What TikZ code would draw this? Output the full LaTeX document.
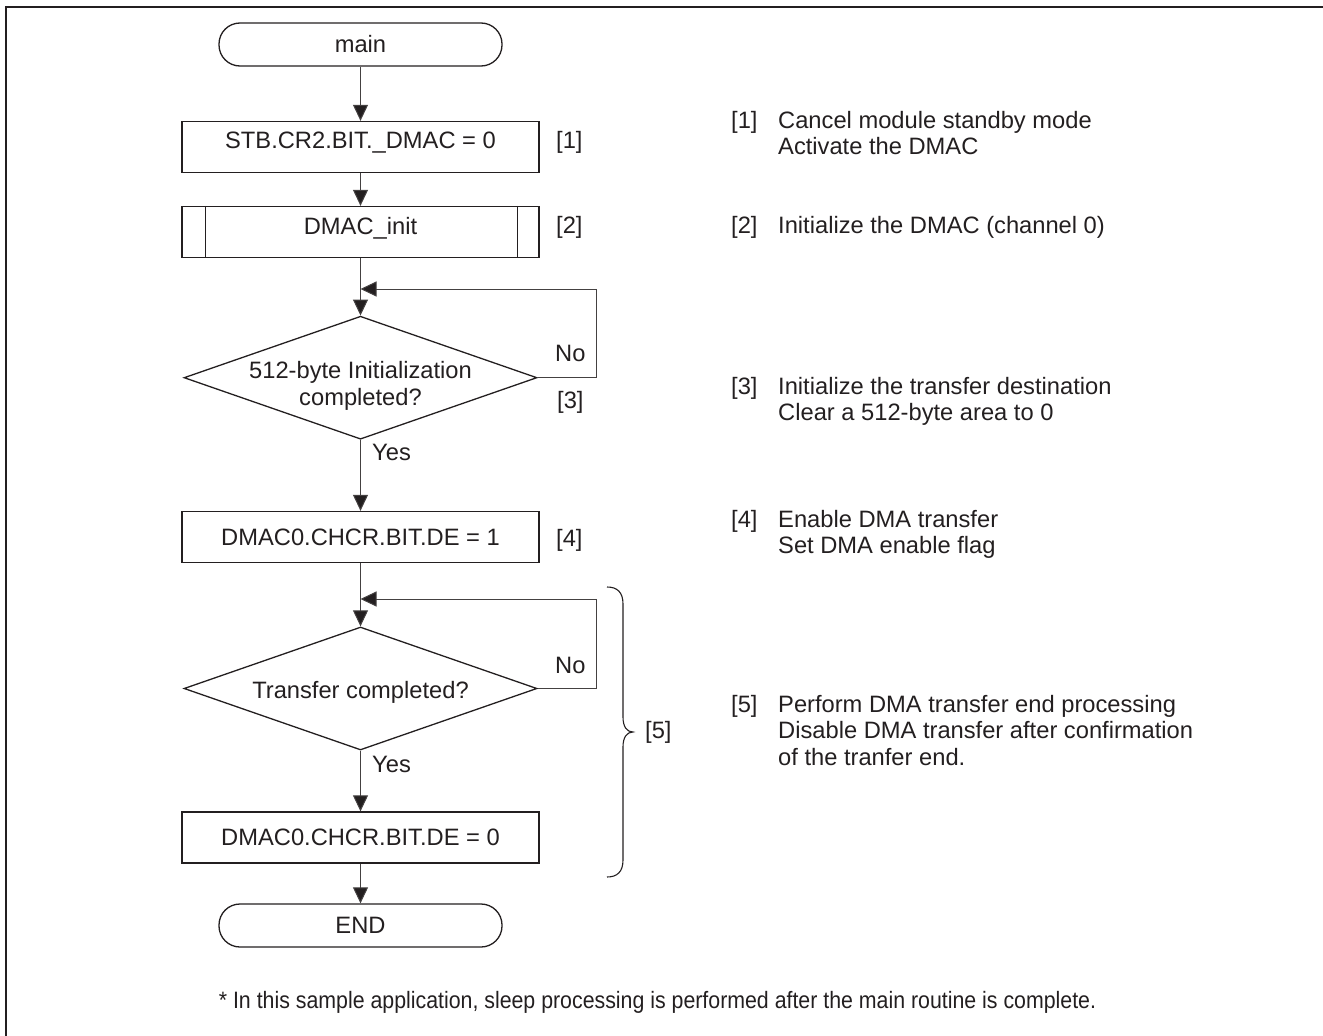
\documentclass[tikz,border=0pt]{standalone}
\usepackage{fontspec}
\setmainfont{Liberation Sans}
\usetikzlibrary{arrows.meta,shapes.geometric}
\definecolor{ink}{RGB}{35,31,32}
\newcommand\flatin[2]{\makebox[0pt]{\raisebox{#1}[0pt][0pt]{#2}}}
\newcommand\liftin[2]{\raisebox{#1}[\height][\depth]{#2}}
\newcommand\toplines[1]{\begin{tabular}[t]{@{}l@{}}#1\end{tabular}}
\begin{document}
\begin{tikzpicture}[x=1pt,y=-1pt,
  every node/.style={font=\fontsize{23.7}{26.5}\selectfont, text=ink, inner sep=0pt},
  proc/.style={draw=ink, line width=1.3pt, minimum width=357pt, minimum height=51pt},
  term/.style={draw=ink, line width=1.3pt, rounded corners=21pt, minimum width=283pt, minimum height=43pt},
  dec/.style={draw=ink, line width=1.3pt, diamond, minimum width=353pt, minimum height=123pt},
  flow/.style={draw=ink!85, line width=1pt, -{Triangle[length=16pt,width=15pt,fill=ink]}},
  tag/.style={anchor=base west},
  desc/.style={anchor=base west},
]
\useasboundingbox (0,0) rectangle (1323,1036);
% frame (top and left edges)
\coordinate (fbl) at (6,1036);
\coordinate (ftl) at (6,7);
\coordinate (ftr) at (1323,7);
\draw[ink, line width=2pt] (fbl) -- (ftl) -- (ftr);

% flowchart nodes
\node[term] (main) at (360.5,44.5) {main};
\node[proc] (b1) at (360.5,147) {\liftin{4pt}{STB.CR2.BIT.\_DMAC = 0}};
\node[proc] (b2) at (360.5,232) {\liftin{4pt}{DMAC\_init}};
\draw[ink, line width=1.3pt] ([xshift=24pt]b2.north west) -- ([xshift=24pt]b2.south west);
\draw[ink, line width=1.3pt] ([xshift=-22pt]b2.north east) -- ([xshift=-22pt]b2.south east);
\coordinate (j1) at (360.5,289);
\node[dec] (d1) at (360.5,377.7) {\flatin{-15.2pt}{\begin{tabular}{@{}c@{}}512-byte Initialization\\completed?\end{tabular}}};
\node[proc] (b4) at (360.5,537) {DMAC0.CHCR.BIT.DE = 1};
\coordinate (j2) at (360.5,599);
\node[dec] (d2) at (360.5,688.5) {\flatin{-9.5pt}{Transfer completed?}};
\node[proc] (b5) at (360.5,837.5) {DMAC0.CHCR.BIT.DE = 0};
\node[term] (end) at (360.5,925.5) {END};

% connectors
\draw[flow] (main.south) -- (b1.north);
\draw[flow] (b1.south) -- (b2.north);
\draw[flow] (b2.south) -- (d1.north);
\draw[flow] (d1.east) -- ++(58.5,0) |- (j1);
\draw[flow] (d1.south) -- (b4.north);
\draw[flow] (b4.south) -- (d2.north);
\draw[flow] (d2.east) -- ++(58.5,0) |- (j2);
\draw[flow] (d2.south) -- (b5.north);
\draw[flow] (b5.south) -- (end.north);

% branch labels
\node[tag] (no1) at (555,361) {No};
\node[tag] (yes1) at (372,460) {Yes};
\node[tag] (no2) at (555,673) {No};
\node[tag] (yes2) at (372,772) {Yes};

% step tags beside the chart
\node[tag] (t1) at (556,148) {[1]};
\node[tag] (t2) at (556,233) {[2]};
\node[tag] (t3) at (557,408) {[3]};
\node[tag] (t4) at (556,546) {[4]};

% brace for [5]
\coordinate (bt) at (607,587);
\coordinate (bb) at (607,877);
\coordinate (bp) at (633,732);
\draw[ink, line width=1.1pt] (bt) .. controls (617,587) and (623,592) .. (623,604) -- (623,717)
  .. controls (623,727) and (627,732) .. (bp)
  .. controls (627,732) and (623,737) .. (623,747) -- (623,860)
  .. controls (623,872) and (617,877) .. (bb);
\node[anchor=west] (t5) at (645,732) {[5]};

% descriptions
\node[tag] (k1) at (731,128) {[1]};
\node[desc] (e1) at (778,128) {\toplines{Cancel module standby mode\\Activate the DMAC}};
\node[tag] (k2) at (731,233) {[2]};
\node[desc] (e2) at (778,233) {Initialize the DMAC (channel 0)};
\node[tag] (k3) at (731,394) {[3]};
\node[desc] (e3) at (778,394) {\toplines{Initialize the transfer destination\\Clear a 512-byte area to 0}};
\node[tag] (k4) at (731,527) {[4]};
\node[desc] (e4) at (778,527) {\toplines{Enable DMA transfer\\Set DMA enable flag}};
\node[tag] (k5) at (731,712) {[5]};
\node[desc] (e5) at (778,712) {\toplines{Perform DMA transfer end processing\\Disable DMA transfer after confirmation\\of the tranfer end.}};

% footnote
\node[anchor=base] (fn) at (657.5,1008) {\scalebox{0.9}[1]{* In this sample application, sleep processing is performed after the main routine is complete.}};
\end{tikzpicture}
\end{document}
